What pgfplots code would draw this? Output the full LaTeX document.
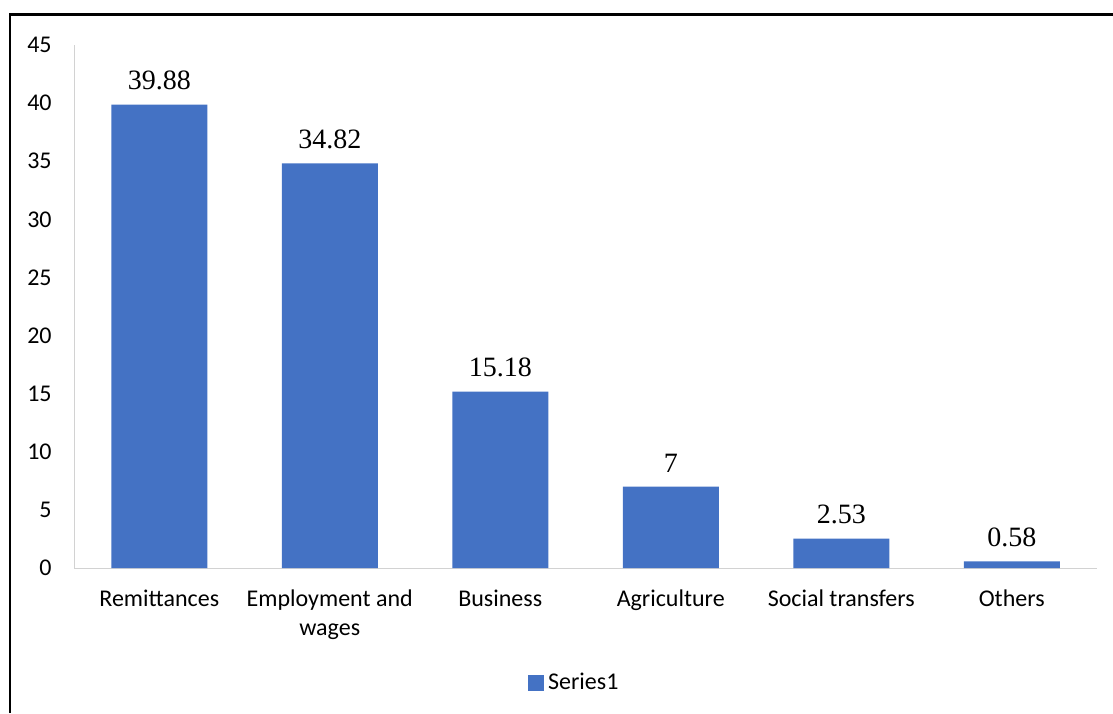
\documentclass[border=0pt]{standalone}
\usepackage{pgfplots}
\pgfplotsset{compat=1.18}
\usepackage{fontspec}
\setmainfont{Liberation Serif}
\newfontfamily\calfont{Carlito}
\definecolor{barblue}{HTML}{4472C4}
\newcommand{\lh}{\vphantom{Al}}
\begin{document}
\begin{tikzpicture}[x=0.5pt,y=0.5pt]
\useasboundingbox (0,0) rectangle (1113,713);
\draw[line width=1.1pt] (10,0) -- (10,698.5) -- (1113,698.5);
\begin{axis}[
	at={(37pt,72.5pt)}, anchor=south west,
	scale only axis, width=511.5pt, height=261.5pt,
	ybar, bar width=48pt,
	xmin=-0.5, xmax=5.5, ymin=0, ymax=45,
	xtick={0,...,5},
	xticklabels={\lh Remittances,\lh Employment and\\wages,\lh Business,\lh Agriculture,\lh Social transfers,\lh Others},
	ytick={0,5,...,45},
	axis x line=bottom, axis y line=left,
	axis line style={draw=gray!35, -},
	major tick length=0pt,
	/pgf/number format/assume math mode=true,
	xticklabel style={font=\calfont\fontsize{12}{14.5}\selectfont, align=center, inner sep=0pt, yshift=-10.5pt, anchor=north},
	yticklabel style={font=\calfont\fontsize{12}{14}\selectfont, inner sep=0pt, xshift=-11pt},
	nodes near coords={\pgfmathprintnumber[fixed,precision=2]{\pgfplotspointmeta}},
	nodes near coords style={font=\fontsize{14}{16}\selectfont, inner sep=0pt, anchor=south, yshift=7pt, text=black},
	legend style={at={(0.49,-0.22)}, anchor=center, draw=none, fill=none,
		font=\calfont\fontsize{12}{14}\selectfont},
	legend image code/.code={\fill[#1] (0pt,-4pt) rectangle (8pt,4pt);},
]
\addplot[fill=barblue, draw=none] coordinates {
	(0,39.88)
	(1,34.82)
	(2,15.18)
	(3,7)
	(4,2.53)
	(5,0.58)
};
\addlegendentry{Series1}
\end{axis}
\end{tikzpicture}
\end{document}
